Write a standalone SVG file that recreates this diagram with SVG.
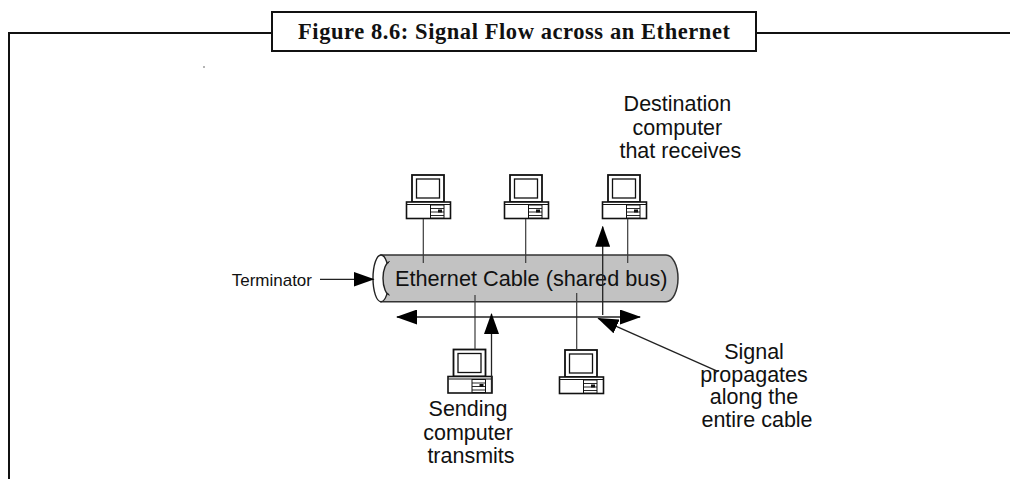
<svg xmlns="http://www.w3.org/2000/svg" width="1010" height="479" viewBox="0 0 1010 479">
  <style>
    .frame { fill: none; stroke: #111; stroke-width: 2; }
    .title { font-family: "Liberation Serif", "Times New Roman", serif; font-weight: bold; font-size: 22.5px; fill: #111; }
    .label { font-family: "Liberation Sans", Arial, sans-serif; font-size: 21.5px; fill: #111; }
    .pc-line { fill: #fff; stroke: #111; }
    .wire { fill: none; stroke: #3a3a3a; stroke-width: 1.2; }
    .arrow { fill: none; stroke: #222; stroke-width: 1.3; }
  </style>
  <defs>
    <marker id="head" markerUnits="userSpaceOnUse" markerWidth="21" markerHeight="15" refX="20" refY="7.5" orient="auto-start-reverse">
      <path d="M0,0 L21,7.5 L0,15 Z" fill="#000"/>
    </marker>
    <!-- desktop computer icon, origin at the monitor's top-left corner -->
    <g id="pc-icon">
      <rect class="pc-line" x="0" y="0" width="32" height="27" stroke-width="1.8"/>
      <rect class="pc-line" x="4.5" y="4" width="23" height="19" stroke-width="1.3"/>
      <rect class="pc-line" x="-5.5" y="27" width="44" height="16.5" stroke-width="1.6"/>
      <line x1="-5" y1="29.5" x2="38" y2="29.5" stroke="#111" stroke-width="1"/>
      <rect class="pc-line" x="18.5" y="30" width="13.5" height="13" stroke-width="1"/>
      <line x1="18.5" y1="33.5" x2="32" y2="33.5" stroke="#111" stroke-width="0.9"/>
      <line x1="18.5" y1="37" x2="32" y2="37" stroke="#111" stroke-width="0.9"/>
      <line x1="18.5" y1="40.5" x2="32" y2="40.5" stroke="#111" stroke-width="0.9"/>
      <rect x="26" y="34.5" width="4" height="3" fill="#111"/>
    </g>
  </defs>

  <rect width="1010" height="479" fill="#fff"/>

  <!-- figure frame and caption box -->
  <g id="frame">
    <path class="frame" d="M9,479 V33 H272 M756,33 H1010"/>
    <rect class="frame" x="272" y="12" width="484" height="39" fill="#fff"/>
    <text class="title" x="514" y="38.5" text-anchor="middle" textLength="432" lengthAdjust="spacing">Figure 8.6: Signal Flow across an Ethernet</text>
    <circle cx="204" cy="67" r="0.8" fill="#555"/>
  </g>

  <!-- shared bus cable -->
  <g id="cable">
    <path d="M381,255 H666 A12,23.35 0 0 1 666,301.7 H381 Z" fill="#c2c2c2" stroke="#333" stroke-width="1.5"/>
    <ellipse cx="381" cy="278.35" rx="8" ry="23.35" fill="#fff" stroke="#222" stroke-width="1.4"/>
    <path d="M390,262 A7,16.35 0 0 0 390,294.7 H396 V262 Z" fill="#c2c2c2"/>
    <path d="M390,262 A7,16.35 0 0 0 390,294.7" fill="none" stroke="#222" stroke-width="1.4"/>
    <rect x="389" y="262" width="8" height="32.7" fill="#c2c2c2"/>
    <text class="label" x="395" y="285.7" style="font-size:21.7px">Ethernet Cable (shared bus)</text>
  </g>

  <!-- computers on the bus -->
  <g id="pc-top-1"><use href="#pc-icon" x="412" y="175"/></g>
  <g id="pc-top-2"><use href="#pc-icon" x="510" y="175"/></g>
  <g id="pc-destination"><use href="#pc-icon" x="608" y="175"/></g>
  <g id="pc-sending"><use href="#pc-icon" x="453.5" y="349.5"/></g>
  <g id="pc-bottom-2"><use href="#pc-icon" x="565" y="350"/></g>

  <!-- taps and signal arrows -->
  <g id="connectors">
    <line class="wire" x1="423.3" y1="219" x2="423.3" y2="263"/>
    <line class="wire" x1="525.7" y1="219" x2="525.7" y2="263"/>
    <line class="wire" x1="627.7" y1="219" x2="627.7" y2="263"/>
    <line class="wire" x1="475" y1="295" x2="475" y2="349.5"/>
    <line class="wire" x1="576.7" y1="293" x2="576.7" y2="350"/>
    <line class="arrow" x1="320" y1="279.3" x2="373.5" y2="279.3" marker-end="url(#head)"/>
    <line class="arrow" x1="397" y1="317" x2="640" y2="317" marker-start="url(#head)" marker-end="url(#head)"/>
    <line class="arrow" x1="491.5" y1="392" x2="491.5" y2="314" marker-end="url(#head)"/>
    <line class="arrow" x1="602.7" y1="315" x2="602.7" y2="226.7" marker-end="url(#head)"/>
    <line class="arrow" x1="718.3" y1="371.7" x2="598.3" y2="318.3" marker-end="url(#head)"/>
  </g>

  <!-- annotations -->
  <g id="labels">
    <text class="label" x="312" y="286" text-anchor="end" style="font-size:17px">Terminator</text>
    <text class="label" text-anchor="middle">
      <tspan x="680.4" y="111">Destination</tspan>
      <tspan x="680.4" y="134.5">computer</tspan>
      <tspan x="680.4" y="158">that receives</tspan>
    </text>
    <text class="label" text-anchor="middle">
      <tspan x="471" y="416">Sending</tspan>
      <tspan x="471" y="439.5">computer</tspan>
      <tspan x="471" y="463">transmits</tspan>
    </text>
    <text class="label" text-anchor="middle">
      <tspan x="757" y="359">Signal</tspan>
      <tspan x="757" y="381.7">propagates</tspan>
      <tspan x="757" y="404.3">along the</tspan>
      <tspan x="757" y="427">entire cable</tspan>
    </text>
  </g>
</svg>
